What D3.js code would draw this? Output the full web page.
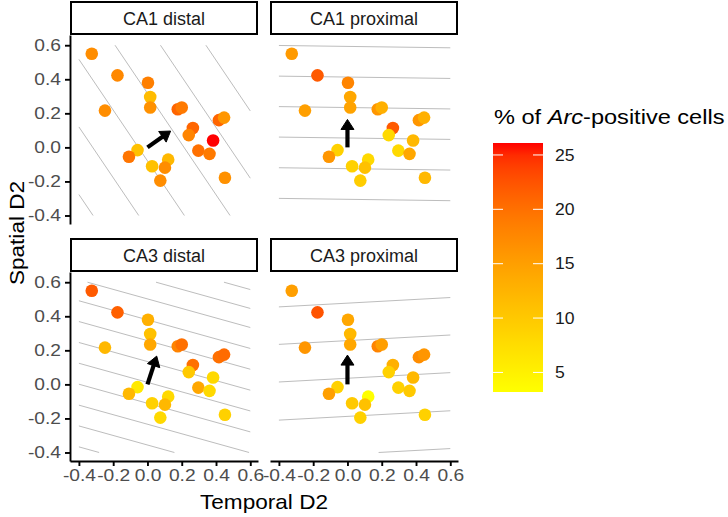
<!DOCTYPE html>
<html><head><meta charset="utf-8">
<script src="https://cdn.jsdelivr.net/npm/d3@7"></script>
<style>
body{margin:0;background:#fff;}
svg{display:block;font-family:"Liberation Sans",Arial,sans-serif;}
</style></head><body>
<svg id="chart" width="728" height="517"></svg>
<script>
// ---------------- data ----------------
const panelNames = ["CA1 distal", "CA1 proximal", "CA3 distal", "CA3 proximal"];
const pointX = [-0.325, -0.175, 0.003, 0.016, 0.016, -0.248, 0.177, 0.200, 0.417, 0.447, 0.265, 0.241,
                0.383, 0.297, 0.362, 0.452, -0.058, -0.108, 0.121, 0.027, 0.102, 0.075];
const pointY = [0.550, 0.423, 0.380, 0.296, 0.234, 0.216, 0.224, 0.234, 0.160, 0.175, 0.114, 0.072,
                0.040, -0.019, -0.038, -0.178, -0.016, -0.055, -0.072, -0.111, -0.119, -0.195];
const arcCA1distal   = [17, 17.5, 18.5, 11.5, 16.5, 17, 21, 19, 21, 16, 21, 18, 26.1, 20, 19, 16.5, 11, 19.5, 12, 11, 17, 17];
const arcCA1proximal = [15.5, 22, 18, 14, 14.5, 15, 16, 13, 16, 13, 22, 8, 12, 8, 14, 12, 9, 16, 8, 9, 11, 9.5];
const arcCA3distal   = [22, 21.5, 13, 11, 14, 12, 18, 20, 20, 20.5, 20, 10, 8, 14, 8, 9, 6, 12, 8, 9, 12, 8];
const arcCA3proximal = [15, 22.5, 14, 12, 14, 16, 18, 15, 17, 16, 13, 9, 12, 9, 10, 9, 9, 15, 3.2, 10, 11, 9];
const arcValues = [arcCA1distal, arcCA1proximal, arcCA3distal, arcCA3proximal];
// gradient arrows (from origin) per panel
const arrowEndX = [0.135, 0.0, 0.054, 0.0];
const arrowEndY = [0.096, 0.164, 0.166, 0.172];
// contour lines of fitted planes: y = intercept + slope * x
const contourSlope = [-1.49, -0.0136, -0.28, 0.055];
const contourIntercepts = [
  [1.108, 0.713, 0.318, -0.079, -0.476, -0.873],
  [0.593, 0.413, 0.234, 0.055, -0.125, -0.305],
  [0.725, 0.614, 0.502, 0.379, 0.257, 0.134, 0.012, -0.111, -0.234, -0.356, -0.479],
  [0.477, 0.257, 0.036, -0.188, -0.410]
];
const gridRange = [-0.4, 0.6];
const xTicks = [-0.4, -0.2, 0.0, 0.2, 0.4, 0.6];
const yTicks = [-0.4, -0.2, 0.0, 0.2, 0.4, 0.6];
const legendTicks = [5, 10, 15, 20, 25];

// ---------------- layout ----------------
const svg = d3.select("#chart");
const colX = [70, 270], rowY = [35, 272];
const W = 188, H = 189, stripH = 33;
const xDomain = [-0.452, 0.645], yDomain = [-0.45, 0.66];
const allVals = arcValues.flat();
const color = d3.scaleSequential(d3.interpolateLab("#ffff00", "#ff0000")).domain(d3.extent(allVals));
const fmt = d => d3.format(".1f")(d).replace("\u2212", "-");

panelNames.forEach((name, i) => {
  const col = i % 2, row = Math.floor(i / 2);
  const x0 = colX[col], y0 = rowY[row];
  const x = d3.scaleLinear().domain(xDomain).range([x0, x0 + W]);
  const y = d3.scaleLinear().domain(yDomain).range([y0 + H, y0]);
  const g = svg.append("g");

  // contour lines
  const m = contourSlope[i];
  contourIntercepts[i].forEach(b => {
    const xa = (gridRange[0] - b) / m, xb = (gridRange[1] - b) / m;
    const lo = Math.max(gridRange[0], Math.min(xa, xb));
    const hi = Math.min(gridRange[1], Math.max(xa, xb));
    if (hi > lo) {
      g.append("line")
        .attr("x1", x(lo)).attr("y1", y(b + m * lo))
        .attr("x2", x(hi)).attr("y2", y(b + m * hi))
        .attr("stroke", "#bdbdbd").attr("stroke-width", 1);
    }
  });

  // points
  g.selectAll("circle.pt").data(pointX.map((px, k) => ({x: px, y: pointY[k], v: arcValues[i][k]})))
    .join("circle").attr("class", "pt")
    .attr("cx", d => x(d.x)).attr("cy", d => y(d.y)).attr("r", 6.3)
    .attr("fill", d => color(d.v));

  // arrow
  const sx = x(0), sy = y(0), ex = x(arrowEndX[i]), ey = y(arrowEndY[i]);
  const ang = Math.atan2(ey - sy, ex - sx);
  const hl = 10, hw = 6.5;
  const bx = ex - hl * Math.cos(ang), by = ey - hl * Math.sin(ang);
  g.append("line").attr("x1", sx).attr("y1", sy).attr("x2", bx + Math.cos(ang)).attr("y2", by + Math.sin(ang))
    .attr("stroke", "#000").attr("stroke-width", 4.2);
  g.append("path")
    .attr("d", `M${ex},${ey}L${bx - hw * Math.sin(ang)},${by + hw * Math.cos(ang)}L${bx + hw * Math.sin(ang)},${by - hw * Math.cos(ang)}Z`)
    .attr("fill", "#000").attr("stroke", "#000").attr("stroke-width", 1);

  // strip
  g.append("rect").attr("x", x0 + 1).attr("y", y0 - stripH).attr("width", W - 2).attr("height", stripH - 1)
    .attr("fill", "#fff").attr("stroke", "#000").attr("stroke-width", 2);
  g.append("text").attr("x", x0 + W / 2).attr("y", y0 - stripH / 2).attr("dy", "0.36em")
    .attr("text-anchor", "middle").attr("font-size", 18).attr("fill", "#1a1a1a").text(name);

  // axes
  if (col === 0) {
    const ga = svg.append("g").attr("transform", `translate(${x0},0)`)
      .call(d3.axisLeft(y).tickValues(yTicks).tickFormat(fmt).tickSize(5).tickSizeOuter(0).tickPadding(4));
    styleAxis(ga);
    ga.selectAll(".tick text").attr("x", -9 / 1.2).attr("transform", "scale(1.2,1)");
  }
  if (row === 1) {
    const ga = svg.append("g").attr("transform", `translate(0,${y0 + H})`)
      .call(d3.axisBottom(x).tickValues(xTicks).tickFormat(fmt).tickSize(5).tickSizeOuter(0).tickPadding(4));
    styleAxis(ga);
    ga.selectAll(".tick text").attr("transform", "scale(1.2,1)");
  }
});

function styleAxis(ga) {
  ga.attr("font-family", null).attr("font-size", null);
  ga.select(".domain").attr("stroke", "#000").attr("stroke-width", 1.9);
  ga.selectAll(".tick line").attr("stroke", "#000").attr("stroke-width", 1.9);
  ga.selectAll(".tick text").attr("fill", "#4d4d4d").attr("font-size", 16);
}

// axis titles
svg.append("text").attr("transform", "translate(264,509) scale(1.13,1)")
  .attr("text-anchor", "middle").attr("font-size", 20).text("Temporal D2");
svg.append("text").attr("transform", "translate(24,233) rotate(-90) scale(1.13,1)")
  .attr("text-anchor", "middle").attr("font-size", 20).text("Spatial D2");

// legend
const lg = svg.append("g");
const lt = lg.append("text").attr("transform", "translate(494,124) scale(1.15,1)").attr("font-size", 20.5);
lt.append("tspan").text("% of ");
lt.append("tspan").attr("font-style", "italic").text("Arc");
lt.append("tspan").text("-positive cells");

const barX = 493, barW = 50, barTop = 143, barBot = 392;
const ly = d3.scaleLinear().domain(color.domain()).range([barBot, barTop]);
const grad = svg.append("defs").append("linearGradient").attr("id", "lgrad")
  .attr("x1", 0).attr("y1", 1).attr("x2", 0).attr("y2", 0);
d3.range(0, 1.0001, 0.05).forEach(t => {
  const v = color.domain()[0] + t * (color.domain()[1] - color.domain()[0]);
  grad.append("stop").attr("offset", t).attr("stop-color", color(v));
});
lg.append("rect").attr("x", barX).attr("y", barTop).attr("width", barW).attr("height", barBot - barTop)
  .attr("fill", "url(#lgrad)");
legendTicks.forEach(t => {
  lg.append("line").attr("x1", barX).attr("x2", barX + 10).attr("y1", ly(t)).attr("y2", ly(t))
    .attr("stroke", "#fff").attr("stroke-width", 1);
  lg.append("line").attr("x1", barX + barW - 10).attr("x2", barX + barW).attr("y1", ly(t)).attr("y2", ly(t))
    .attr("stroke", "#fff").attr("stroke-width", 1);
  lg.append("text").attr("transform", `translate(555,${ly(t)}) scale(1.1,1)`).attr("dy", "0.36em")
    .attr("font-size", 16).attr("fill", "#1a1a1a").text(t);
});
</script>
</body></html>
